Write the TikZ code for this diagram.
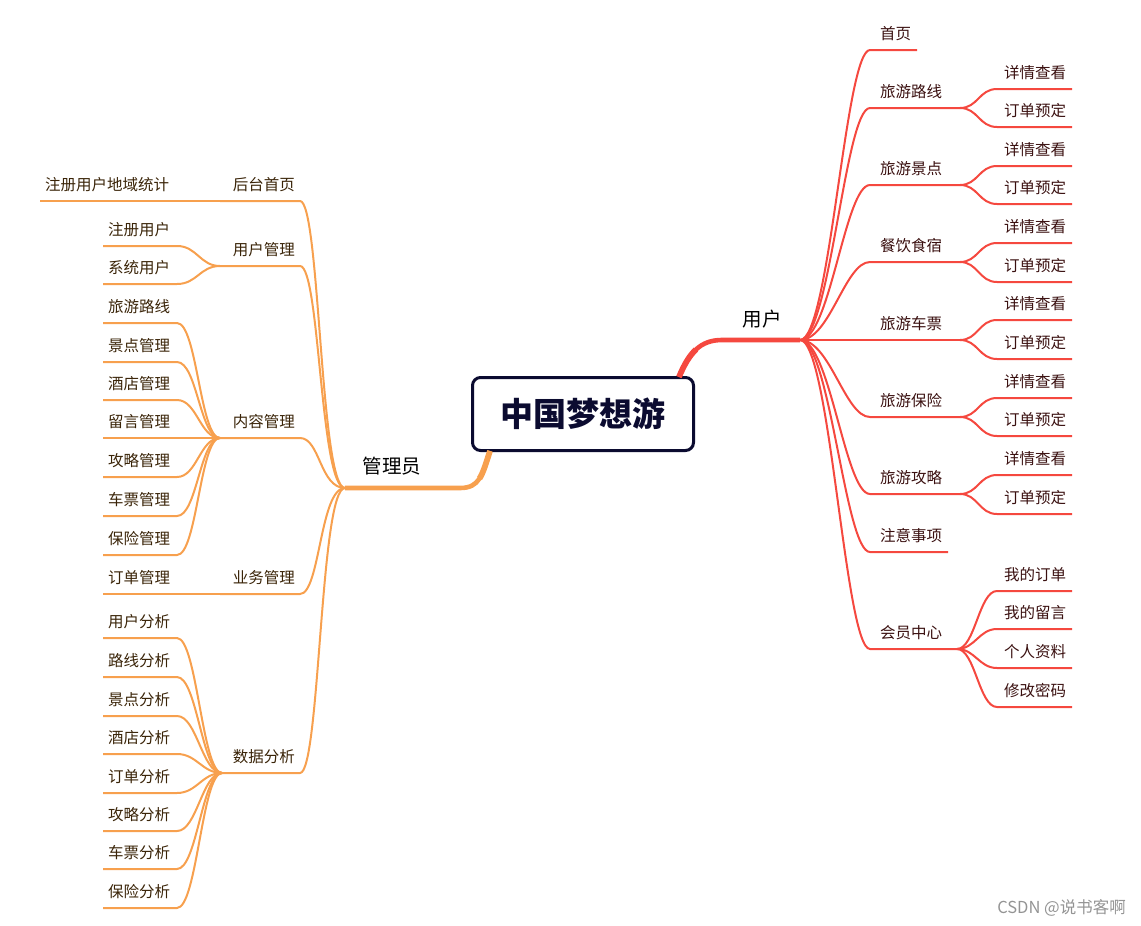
\documentclass[tikz,border=0pt]{standalone}
\usepackage{fontspec}
\newfontfamily\cjk{Noto Sans CJK SC}
\definecolor{ured}{HTML}{F5483F}
\definecolor{aorg}{HTML}{F7A04E}
\definecolor{navy}{HTML}{0B0B30}
\definecolor{utxt}{HTML}{3A1010}
\definecolor{atxt}{HTML}{3A2408}
\begin{document}
\begin{tikzpicture}[x=1pt,y=-1pt,
  ubr/.style={draw=ured,line width=2pt},
  abr/.style={draw=aorg,line width=2pt},
  lbl/.style={font=\cjk\fontsize{15.5}{17}\selectfont,inner sep=0pt},
  ulbl/.style={lbl,text=utxt,anchor=west},
  albl/.style={lbl,text=atxt},
  mainlbl/.style={font=\cjk\fontsize{19.5}{22}\selectfont,inner sep=0pt,text=black},
]
\useasboundingbox (0,0) rectangle (1141,926);

% root
\node[draw=navy,line width=3pt,rounded corners=8pt,minimum width=221pt,minimum height=73pt,
      font=\cjk\bfseries\fontsize{33}{36}\selectfont,text=navy] (root) at (583,414) {中国梦想游};

% main branches
\coordinate (U) at (800,340);
\coordinate (Ubend) at (722,340);
\coordinate (A) at (345,488);
\coordinate (Abend) at (460,488);
\coordinate (Ustart) at ([xshift=96pt,yshift=-1pt]root.north);
\coordinate (Umid) at ([xshift=113pt,yshift=26.5pt]root.north);
\coordinate (Astart) at ([xshift=-93pt,yshift=1pt]root.south);
\coordinate (Amid) at ([xshift=-103.5pt,yshift=-26.5pt]root.south);
\draw[draw=ured,line width=4.6pt] (Ustart) .. controls +(10,-24) and +(-22,0) .. (Ubend) -- (U);
\draw[draw=ured,line width=5.8pt] (Ustart) .. controls +(5,-12) and +(-6.75,6.25) .. (Umid);
\draw[draw=aorg,line width=4.6pt] (Astart) .. controls +(-8,24) and +(20,0) .. (Abend) -- (A);
\draw[draw=aorg,line width=5.8pt] (Astart) .. controls +(-4,12) and +(4,-6.25) .. (Amid);
\node[mainlbl] (ulab) at (762,319) {用户};
\node[mainlbl] (alab) at (392,466) {管理员};

% user children
\foreach \n/\t/\uy/\ue in {1/首页/50/917, 2/旅游路线/108/960, 3/旅游景点/185/960, 4/餐饮食宿/262/960,
  5/旅游车票/340/960, 6/旅游保险/417/960, 7/旅游攻略/494/960, 8/注意事项/552/948, 9/会员中心/649/957} {
  \coordinate (uc\n) at (870,\uy);
  \coordinate (ue\n) at (\ue,\uy);
  \node[ulbl] (ul\n) at (880,\uy-16) {\t};
  \draw[ubr] (U) .. controls +(30,0) and +(-25,0) .. (uc\n) -- (ue\n);
}
% user grandchildren
\foreach \p/\n/\t/\uy in {2/1/详情查看/89, 2/2/订单预定/127, 3/1/详情查看/166, 3/2/订单预定/204,
  4/1/详情查看/243, 4/2/订单预定/282, 5/1/详情查看/320, 5/2/订单预定/359,
  6/1/详情查看/398, 6/2/订单预定/436, 7/1/详情查看/475, 7/2/订单预定/514,
  9/1/我的订单/591, 9/2/我的留言/629, 9/3/个人资料/668, 9/4/修改密码/707} {
  \coordinate (us\p\n) at (997,\uy);
  \coordinate (uz\p\n) at (1072,\uy);
  \node[ulbl] (usl\p\n) at (1004,\uy-16) {\t};
  \draw[ubr] (ue\p) .. controls +(18,0) and +(-18,0) .. (us\p\n) -- (uz\p\n);
}

% admin children
\foreach \n/\t/\uy/\ue in {1/后台首页/201/220, 2/用户管理/266/220, 3/内容管理/438/220, 4/业务管理/594/220, 5/数据分析/773/222} {
  \coordinate (ac\n) at (300,\uy);
  \coordinate (ae\n) at (\ue,\uy);
  \node[albl,anchor=east] (al\n) at (295,\uy-16) {\t};
  \draw[abr] (A) .. controls +(-25,0) and +(20,0) .. (ac\n) -- (ae\n);
}
% admin single grandchildren (straight continuation)
\coordinate (az11) at (40,201);
\coordinate (az41) at (103,594);
\node[albl,anchor=west] (asl11) at (45,185) {注册用户地域统计};
\node[albl,anchor=west] (asl41) at (108,578) {订单管理};
\draw[abr] (ae1) -- (az11);
\draw[abr] (ae4) -- (az41);
% admin grandchildren
\foreach \p/\n/\t/\uy in {2/1/注册用户/246, 2/2/系统用户/284,
  3/1/旅游路线/323, 3/2/景点管理/362, 3/3/酒店管理/400, 3/4/留言管理/438, 3/5/攻略管理/477, 3/6/车票管理/516, 3/7/保险管理/555,
  5/1/用户分析/638, 5/2/路线分析/677, 5/3/景点分析/716, 5/4/酒店分析/754, 5/5/订单分析/793, 5/6/攻略分析/831, 5/7/车票分析/869, 5/8/保险分析/908} {
  \coordinate (as\p\n) at (177,\uy);
  \coordinate (az\p\n) at (103,\uy);
  \node[albl,anchor=west] (asl\p\n) at (108,\uy-16) {\t};
  \draw[abr] (ae\p) .. controls +(-20,0) and +(20,0) .. (as\p\n) -- (az\p\n);
}

% watermark
\node[font=\cjk\fontsize{16.5}{18}\selectfont,text=black!42,anchor=east,inner sep=0pt] (wm) at (1126,908) {CSDN @说书客啊};
\end{tikzpicture}
\end{document}
